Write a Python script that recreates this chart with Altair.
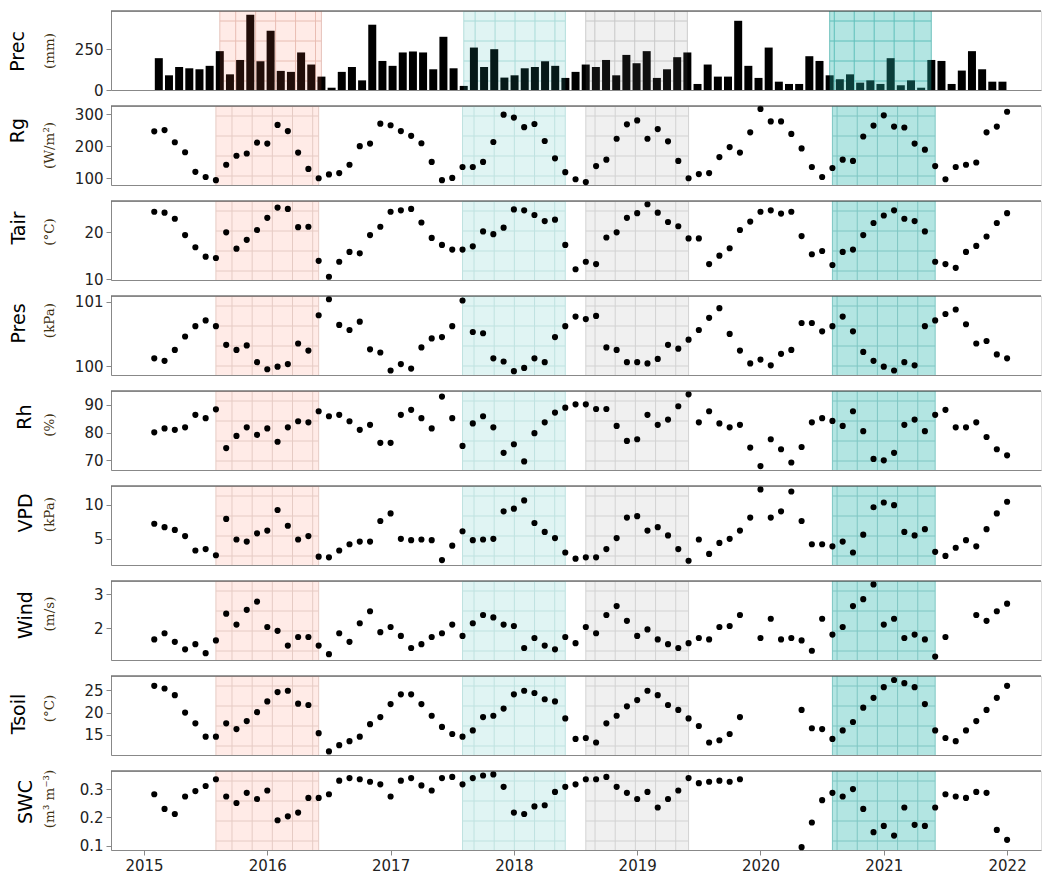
import altair as alt
import pandas as pd

# ---------------- data (monthly, Feb 2015 .. Jan 2022) ----------------
n_months = 84
t = [2015 + (k + 1) / 12 for k in range(n_months)]

prec = [195, 90, 141, 133, 127, 148, 238, 96, 184, 461, 176, 363, 117, 111, 230, 156, 82, 14,
        111, 141, 59, 400, 178, 148, 230, 236, 230, 127, 326, 133, 25, 260, 141, 250, 76, 90,
        133, 141, 176, 148, 74, 111, 156, 141, 184, 90, 215, 164, 238, 74, 127, 201, 230, 37,
        156, 82, 82, 424, 148, 74, 260, 51, 37, 37, 207, 178, 90, 66, 96, 45, 59, 37, 195, 29,
        59, 14, 184, 178, 37, 119, 238, 127, 51, 51]
rg = [246, 250, 212, 181, 120, 104, 94, 142, 170, 177, 211, 208, 266, 247, 180, 129, 100, 112,
      116, 142, 200, 208, 270, 265, 247, 232, 209, 151, 94, 101, 135, 135, 151, 213, 298, 289,
      259, 269, 216, 162, 119, 97, 88, 138, 158, 223, 268, 280, 223, 253, 215, 154, 100, 113,
      116, 166, 197, 180, 243, 316, 277, 277, 238, 193, 135, 104, 132, 158, 154, 230, 264, 296,
      261, 258, 208, 189, 138, 97, 135, 142, 149, 243, 261, 307]
tair = [24.4, 24.2, 22.9, 19.4, 16.8, 14.8, 14.5, 20.0, 16.5, 18.4, 20.5, 23.1, 25.3, 25.0, 21.1,
        21.2, 13.9, 10.5, 13.7, 15.8, 15.5, 19.4, 21.2, 24.4, 24.7, 25.0, 22.1, 18.8, 17.3, 16.3,
        16.3, 17.0, 20.2, 19.6, 21.0, 24.9,
        24.7, 23.7, 22.4, 22.7, 17.3, 12.1, 13.7, 13.2, 18.9, 20.0, 23.1, 24.1, 26.0, 24.2, 22.2,
        21.3, 18.7, 18.7, 13.2, 15.0, 16.6, 20.5, 22.3, 24.4, 24.7, 24.0, 24.4, 19.2, 15.3, 16.0,
        13.0, 15.8, 16.3, 19.4, 22.0, 23.6, 24.7, 22.9, 22.4, 20.2, 13.7, 13.2, 12.4, 15.8, 17.1,
        19.1, 22.0, 24.1]
pres = [100.12, 100.08, 100.25, 100.46, 100.62, 100.71, 100.62, 100.33, 100.25, 100.32, 100.06,
        99.95, 99.99, 100.03, 100.35, 100.24, 100.79, 101.04, 100.64, 100.56, 100.69, 100.26,
        100.21, 99.93, 100.03, 99.96, 100.29, 100.43, 100.45, 100.62, 101.02, 100.53, 100.51,
        100.12, 100.07, 99.92,
        99.97, 100.12, 100.06, 100.45, 100.62, 100.77, 100.73, 100.78, 100.29, 100.25, 100.06,
        100.06, 100.04, 100.11, 100.33, 100.27, 100.41, 100.56, 100.75, 100.90, 100.50, 100.24,
        100.04, 100.10, 100.01, 100.19, 100.25, 100.67, 100.67, 100.54, 100.62, 100.77, 100.54,
        100.22, 100.08, 99.99, 99.93, 100.06, 100.01, 100.62, 100.71, 100.81, 100.88, 100.65,
        100.35, 100.39, 100.18, 100.12]
rh = [80.1, 81.5, 81.0, 81.9, 86.4, 85.2, 88.4, 74.4, 78.8, 81.9, 79.2, 81.5, 76.7, 81.9, 84.1,
      83.7, 87.7, 85.9, 86.4, 84.1, 81.0, 82.8, 76.3, 76.3, 86.4, 88.2, 85.2, 81.5, 93.0, 85.2,
      75.2, 83.3, 85.9, 81.9, 72.7, 75.8,
      69.6, 79.8, 83.7, 87.2, 89.0, 90.2, 90.2, 88.5, 88.5, 82.4, 77.0, 77.6, 86.4, 82.8, 84.7,
      89.5, 93.8, 83.7, 87.7, 83.3, 81.9, 82.8, 74.6, 67.9, 77.6, 74.0, 69.2, 74.8, 83.7, 85.2,
      84.2, 82.4, 87.7, 80.5, 70.5, 70.0, 72.7, 82.8, 84.7, 80.5, 86.4, 88.2, 81.9, 81.9, 83.7,
      78.4, 74.0, 71.8]
vpd = [7.2, 6.7, 6.3, 5.4, 3.3, 3.5, 2.6, 7.9, 4.9, 4.6, 5.8, 6.2, 9.2, 6.9, 4.9, 5.4, 2.4, 2.3,
       3.3, 4.2, 4.6, 4.6, 7.6, 8.7, 5.0, 4.8, 4.9, 4.8, 1.9, 4.0, 6.1, 4.8, 4.9, 5.0, 9.0, 9.4,
       10.6, 7.3, 6.0, 5.1, 3.0, 2.1, 2.3, 2.3, 3.5, 5.1, 8.1, 8.3, 6.2, 6.7, 5.5, 3.5, 1.8, 4.9,
       2.8, 4.4, 5.0, 6.2, 8.1, 12.2, 8.1, 9.0, 11.9, 7.6, 4.2, 4.2, 3.9, 4.6, 3.0, 5.6, 9.6, 10.3,
       9.9, 6.0, 5.5, 6.4, 3.1, 2.5, 3.7, 4.8, 3.9, 6.4, 8.7, 10.4]
wind = [1.68, 1.86, 1.61, 1.39, 1.54, 1.28, 1.65, 2.43, 2.11, 2.54, 2.78, 2.04, 1.93, 1.50, 1.75,
        1.75, 1.50, 1.25, 1.86, 1.61, 2.15, 2.50, 1.89, 2.04, 1.78, 1.43, 1.54, 1.75, 1.86, 2.11,
        1.78, 2.15, 2.39, 2.32, 2.11, 2.07,
        1.43, 1.72, 1.50, 1.39, 1.75, 1.57, 2.04, 1.86, 2.39, 2.65, 2.22, 1.78, 1.97, 1.68, 1.54,
        1.43, 1.57, 1.72, 1.68, 2.04, 2.07, 2.39, None, 1.72, 2.28, 1.68, 1.72, 1.65, 1.35, 2.28,
        1.82, 2.04, 2.65, 2.85, 3.28, 2.11, 2.28, 1.72, 1.82, 1.68, 1.18, 1.75, None, None, 2.39,
        2.22, 2.50, 2.72]
tsoil = [26.0, 25.4, 23.9, 20.0, 17.6, 14.6, 14.6, 17.6, 16.3, 18.1, 20.1, 22.5, 24.6, 24.9, 22.0,
         21.7, 15.4, 11.3, 12.7, 13.6, 14.6, 17.4, 19.0, 21.9, 24.1, 24.1, 21.9, 19.3, 16.8, 15.2,
         14.6, 16.0, 19.0, 19.3, 20.9, 24.1,
         24.9, 24.4, 23.0, 22.5, 18.7, 14.1, 14.3, 13.3, 17.6, 19.3, 21.4, 22.8, 24.9, 23.9, 21.7,
         20.6, 18.7, 17.0, 13.3, 13.8, 15.2, 19.0, None, None, None, None, None, 20.6, 16.5, 16.3,
         14.1, 16.0, 17.9, 21.1, 23.3, 25.7, 27.3, 26.6, 25.7, 21.9, 16.0, 14.3, 13.6, 16.0, 18.1,
         20.6, 23.3, 26.0]
swc = [0.282, 0.230, 0.212, 0.274, 0.293, 0.311, 0.335, 0.274, 0.251, 0.287, 0.265, 0.295, 0.190,
       0.204, 0.217, 0.269, 0.269, 0.282, 0.330, 0.339, 0.335, 0.326, 0.317, 0.274, 0.330, 0.339,
       0.313, 0.295, 0.339, 0.343, 0.317, 0.339, 0.348, 0.352, 0.308, 0.217,
       0.212, 0.239, 0.243, 0.290, 0.308, 0.317, 0.335, 0.335, 0.343, 0.308, 0.287, 0.265, 0.290,
       0.235, 0.265, 0.295, 0.339, 0.321, 0.326, 0.330, 0.326, 0.335, None, None, None, None, None,
       0.095, 0.182, 0.261, 0.287, 0.274, 0.300, 0.230, 0.148, 0.170, 0.136, 0.235, 0.174, 0.170,
       0.235, 0.282, 0.274, 0.269, 0.290, 0.287, 0.156, 0.121]

names = ["Prec", "Rg", "Tair", "Pres", "Rh", "VPD", "Wind", "Tsoil", "SWC"]
units = ["(mm)", "(W/m²)", "(°C)", "(kPa)", "(%)", "(kPa)", "(m/s)", "(°C)", "(m³ m⁻³)"]
series = [prec, rg, tair, pres, rh, vpd, wind, tsoil, swc]
domains = [[0, 484], [79, 325], [9.8, 26.7], [99.86, 101.09], [66.5, 95.0],
           [1.18, 12.7], [1.08, 3.38], [10.5, 28.2], [0.085, 0.364]]
ticks = [[0, 250], [100, 200, 300], [10, 20], [100, 101], [70, 80, 90],
         [5, 10], [2, 3], [15, 20, 25], [0.1, 0.2, 0.3]]
tick_format = ["d", "d", "d", "d", "d", "d", "d", "d", ".1f"]
year_ticks = [2015, 2016, 2017, 2018, 2019, 2020, 2021, 2022]

# shaded periods
region_start = [2015 + 7 / 12, 2017 + 7 / 12, 2018 + 7 / 12, 2020 + 7 / 12]
region_end = [2016 + 5 / 12, 2018 + 5 / 12, 2019 + 5 / 12, 2021 + 5 / 12]
region_color = ["#ff6347", "#20b2aa", "#808080", "#20b2aa"]
region_alpha = [0.13, 0.14, 0.12, 0.34]
hatch_color = ["#e6cbc4", "#bfe2e0", "#d2d2d2", "#7fc6c3"]

# ---------------- layout / style ----------------
W, H = 930, 79
X0 = 2014.7324
X1 = X0 + W / 123.3
title_x = [17, 17, 18, 18, 24, 25, 25, 18, 25]
title_y = [40.5, 24.5, 27, 27.5, 26, 27, 34, 38, 31]
unit_y = [40, 39.5, 31, 24.5, 34, 28.5, 33, 32.5, 28]
unit_x = 49
hatch_step = 0.16358
hatch_origin = 2015.7137
hatch_rows = [10, 30, 50, 70]
LABEL_FONT = "DejaVu Sans"

df = pd.DataFrame({"t": t, **{nm: s for nm, s in zip(names, series)}})
reg_df = pd.DataFrame({"s": region_start, "e": region_end, "c": region_color,
                       "a": region_alpha, "h": hatch_color})

hv = []
for s, e, h in zip(region_start, region_end, hatch_color):
    hv.append({"x": s, "h": h})
    hv.append({"x": e, "h": h})
    k = 0
    while hatch_origin + k * hatch_step < e:
        xv = hatch_origin + k * hatch_step
        if xv > s + 0.01 and xv < e - 0.01:
            hv.append({"x": xv, "h": h})
        k += 1
hv_df = pd.DataFrame(hv)
hh_df = pd.DataFrame([{"s": s, "e": e, "h": h, "off": o}
                      for s, e, h in zip(region_start, region_end, hatch_color)
                      for o in hatch_rows])

xscale = alt.Scale(domain=[X0, X1], nice=False, zero=False)


def x_axis(bottom):
    if bottom:
        return alt.Axis(values=year_ticks, format="d", title=None, grid=False,
                        tickSize=5, labelPadding=3, labelFontSize=15, labelFont=LABEL_FONT,
                        labelColor="#222222")
    return alt.Axis(values=year_ticks, labels=False, ticks=False, title=None, grid=False)


panels = []
for i, nm in enumerate(names):
    bottom = i == len(names) - 1
    xa = x_axis(bottom)
    yscale = alt.Scale(domain=domains[i], nice=False, zero=False)
    ya = alt.Axis(values=ticks[i], title=None, grid=False, tickSize=5, labelPadding=3,
                  labelFontSize=15, labelFont=LABEL_FONT, labelColor="#222222",
                  format=tick_format[i])

    rect = alt.Chart(reg_df).mark_rect().encode(
        x=alt.X("s:Q", scale=xscale, axis=xa),
        x2="e:Q",
        y=alt.value(0), y2=alt.value(H),
        color=alt.Color("c:N", scale=None),
        opacity=alt.Opacity("a:Q", scale=None),
    )
    vlines = alt.Chart(hv_df).mark_rule(strokeWidth=1).encode(
        x=alt.X("x:Q", scale=xscale, axis=xa),
        y=alt.value(0), y2=alt.value(H),
        color=alt.Color("h:N", scale=None),
    )
    hlines = alt.Chart(hh_df).mark_rule(strokeWidth=1).encode(
        x=alt.X("s:Q", scale=xscale, axis=xa),
        x2="e:Q",
        y=alt.Y("off:Q", scale=None),
        color=alt.Color("h:N", scale=None),
    )
    if nm == "Prec":
        data_layer = alt.Chart(df).mark_bar(size=8, color="black", orient="vertical").encode(
            x=alt.X("t:Q", scale=xscale, axis=xa),
            y=alt.Y(f"{nm}:Q", scale=yscale, axis=ya),
        )
        layers = [vlines, hlines, data_layer, rect]
    else:
        data_layer = alt.Chart(df).mark_circle(size=38, color="black", opacity=1).encode(
            x=alt.X("t:Q", scale=xscale, axis=xa),
            y=alt.Y(f"{nm}:Q", scale=yscale, axis=ya),
        )
        layers = [rect, vlines, hlines, data_layer]

    one = pd.DataFrame({"title": [nm], "unit": [units[i]]})
    top_border = alt.Chart(one).mark_rule(color="#333333", strokeWidth=1.2).encode(
        x=alt.value(0), x2=alt.value(W), y=alt.value(0))
    title_txt = alt.Chart(one).mark_text(
        angle=270, align="center", baseline="middle", font="DejaVu Sans",
        fontSize=19, color="black").encode(
        x=alt.value(title_x[i] - 110), y=alt.value(title_y[i]), text="title:N")
    unit_txt = alt.Chart(one).mark_text(
        angle=270, align="center", baseline="middle", font="DejaVu Serif",
        fontSize=13.5, color="#3d3010").encode(
        x=alt.value(unit_x - 110), y=alt.value(unit_y[i]), text="unit:N")

    panel = alt.layer(*layers, top_border, title_txt, unit_txt).properties(width=W, height=H)
    panels.append(panel)

chart = alt.vconcat(*panels, spacing=16, bounds="flush").properties(
    padding={"left": 8, "top": 9, "right": 0, "bottom": 0}
).configure_view(stroke=None).configure_axis(
    labelFont=LABEL_FONT, labelColor="#222222", tickColor="#333333",
    domainColor="#333333", domainWidth=1.2, tickWidth=1.2,
).configure(background="white")

chart.save("out.html", embed_options={"renderer": "svg", "actions": False})
